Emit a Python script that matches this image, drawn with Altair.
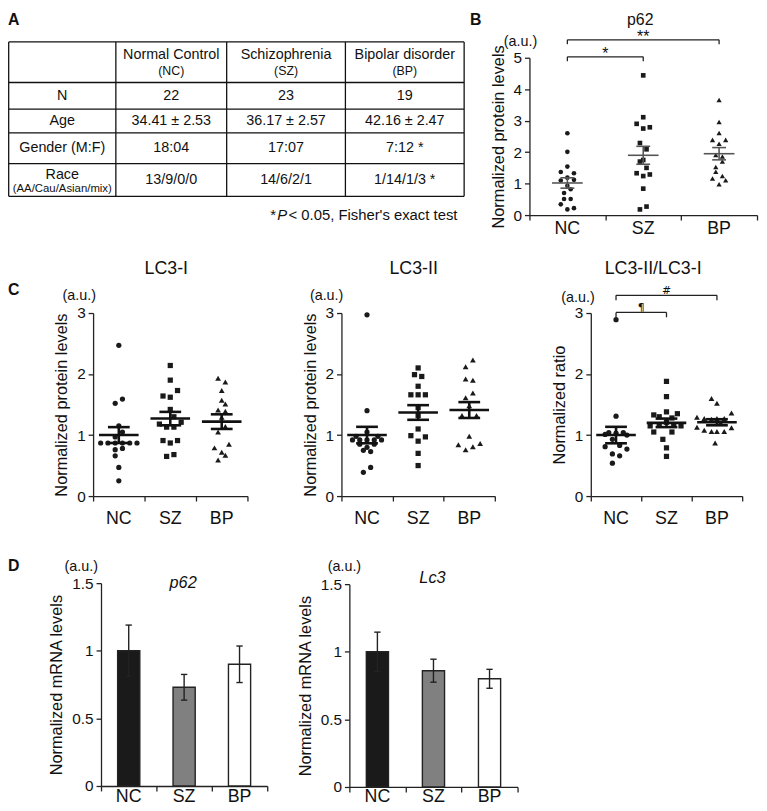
import altair as alt
import pandas as pd

OFF = 8
W, H = 759, 803
FONT = "Liberation Sans, Arial, Helvetica, sans-serif"
NARROW = "Liberation Sans Narrow, Liberation Sans, Arial, sans-serif"
INK = "#1a1a1a"

groups = ["NC", "SZ", "BP"]

# ---------------- Panel A: demographics table ----------------
col_heads = ["Normal Control", "Schizophrenia", "Bipolar disorder"]
col_abbr = ["(NC)", "(SZ)", "(BP)"]
row_labels = ["N", "Age", "Gender (M:F)", "Race"]
race_sub = "(AA/Cau/Asian/mix)"
n_vals = ["22", "23", "19"]
age_vals = ["34.41 ± 2.53", "36.17 ± 2.57", "42.16 ± 2.47"]
gender_vals = ["18:04", "17:07", "7:12 *"]
race_vals = ["13/9/0/0", "14/6/2/1", "1/14/1/3 *"]

# ---------------- Panel B: p62 protein ----------------
b_nc = [2.60, 2.01, 1.54, 1.37, 1.33, 1.19, 1.10, 1.12, 0.93, 0.82, 0.70, 0.51, 0.51, 0.34, 0.22, 0.18]
b_nc_slot = [0, 0, 0, -2, 2, 0, -2, 2, 0, 1, -1, -1, 1, -2, 2, 0]
b_sz = [4.44, 3.11, 2.90, 2.79, 2.75, 2.29, 2.09, 1.75, 1.70, 1.50, 1.33, 1.29, 1.24, 0.84, 0.27, 0.18]
b_sz_slot = [0, 0, -2, 2, 0, -1, 1, 0, -1, 1, -2, 2, 0, 0, 1, -1]
b_bp = [3.66, 2.96, 2.61, 2.39, 2.39, 2.27, 1.91, 1.86, 1.70, 1.53, 1.38, 1.24, 1.16, 1.11, 0.98]
b_bp_slot = [0, 0, 0, -2, 2, 0, -1, 1, 1, -1, -1, 1, -2, 2, 0]
b_mean = [1.02, 1.90, 1.95]
b_sem = [0.165, 0.285, 0.195]
b_brackets = [
    {"a": 0, "b": 1, "lv": 5.03, "drop": 0.14, "label": "*"},
    {"a": 0, "b": 2, "lv": 5.57, "drop": 0.14, "label": "**"},
]

# ---------------- Panel C: LC3-I ----------------
c1_nc = [2.47, 1.59, 1.52, 1.15, 1.05, 0.97, 0.87, 0.87, 0.87, 0.87, 0.87, 0.87, 0.78, 0.76, 0.66, 0.47, 0.25]
c1_nc_slot = [0, 1, -1, 0, 1, -1, -5, -3, -1, 1, 3, 5, 1, -1, -1, 0, 0]
c1_sz = [2.14, 1.90, 1.73, 1.64, 1.62, 1.42, 1.30, 1.21, 1.18, 1.13, 1.13, 0.91, 0.91, 0.87, 0.68, 0.65]
c1_sz_slot = [0, 0, 2, -2, 0, 0, 1, 3, -3, -1, 1, -2, 2, 0, 1, -1]
c1_bp = [1.93, 1.87, 1.73, 1.57, 1.51, 1.41, 1.39, 1.29, 1.14, 1.05, 0.85, 0.79, 0.72, 0.67, 0.59]
c1_bp_slot = [-1, 1, 0, 0, 1, -1, 1, 0, 1, -1, 2, -2, 0, 1, -1]
c1_mean = [1.00, 1.27, 1.22]
c1_sem = [0.13, 0.11, 0.12]

# ---------------- Panel C: LC3-II ----------------
c2_nc = [2.97, 1.40, 1.05, 0.98, 0.98, 0.92, 0.92, 0.92, 0.92, 0.92, 0.85, 0.85, 0.80, 0.75, 0.73, 0.47, 0.39]
c2_nc_slot = [0, 0, 0, -3, 3, -4, -2, 0, 2, 4, -2, 2, 0, -1, 1, 1, -1]
c2_sz = [2.10, 1.99, 1.96, 1.80, 1.66, 1.66, 1.66, 1.45, 1.32, 1.10, 0.99, 0.97, 0.90, 0.70, 0.50]
c2_sz_slot = [0, -1, 1, 0, -2, 0, 2, 0, 0, 0, -2, 2, 0, 0, 0]
c2_bp = [2.23, 2.12, 1.92, 1.90, 1.69, 1.61, 1.48, 1.32, 1.32, 0.98, 0.86, 0.84, 0.81, 0.76]
c2_bp_slot = [1, -1, -1, 1, 1, -1, 0, -2, 2, 0, 3, -3, 1, -1]
c2_mean = [1.00, 1.37, 1.41]
c2_sem = [0.135, 0.12, 0.13]

# ---------------- Panel C: LC3-II/LC3-I ----------------
c3_nc = [2.89, 1.31, 1.04, 1.04, 1.03, 1.01, 1.00, 0.93, 0.83, 0.81, 0.77, 0.69, 0.66, 0.54]
c3_nc_slot = [0, 0, -2, 2, 0, -3, 3, -1, 1, -3, 3, -1, 1, -1]
c3_sz = [1.88, 1.63, 1.38, 1.35, 1.33, 1.30, 1.28, 1.21, 1.16, 1.16, 1.15, 1.15, 1.05, 1.05, 0.93, 0.79, 0.65]
c3_sz_slot = [0, 0, 0, 3, -3.5, -2, 1.5, 0, -2, 2, -4.5, 4, -3.5, 1.5, -1, 0, 0]
c3_bp = [1.60, 1.52, 1.36, 1.29, 1.27, 1.26, 1.27, 1.27, 1.20, 1.13, 1.08, 1.06, 1.06, 1.06, 1.12, 0.87]
c3_bp_slot = [-1.5, 0, 4, -5.5, -3.5, -1.5, 0, 2, 1, -5.5, -3.5, -1.5, 0, 2, 4, -0.5]
c3_mean = [1.00, 1.20, 1.21]
c3_sem = [0.135, 0.07, 0.05]
c3_brackets = [
    {"a": 0, "b": 1, "lv": 3.01, "drop": 0.08, "label": "¶"},
    {"a": 0, "b": 2, "lv": 3.29, "drop": 0.08, "label": "#"},
]

# ---------------- Panel D: mRNA ----------------
d1_mean = [1.00, 0.73, 0.90]
d1_err = [0.19, 0.095, 0.135]
d2_mean = [1.00, 0.86, 0.80]
d2_err = [0.145, 0.085, 0.07]


def P(v):
    return v - OFF


def axes(x0, x1, y0, ytop, ymax, yticks, ytitle):
    xs = alt.Scale(domain=[-0.5, 2.5], range=[P(x0), P(x1)], nice=False, zero=False)
    ys = alt.Scale(domain=[0, ymax], range=[P(y0), P(ytop)], nice=False, zero=False)
    xax = alt.Axis(values=[-0.5, 0.5, 1.5, 2.5], labels=False, title=None, orient="bottom",
                   offset=P(y0) - H, tickSize=5, grid=False, domainWidth=1.3, tickWidth=1.3)
    yax = alt.Axis(values=yticks, orient="left", offset=-P(x0), title=ytitle, titlePadding=7,
                   tickSize=5, grid=False, format="~g", labelPadding=3,
                   domainWidth=1.3, tickWidth=1.3)

    def X(f):
        return alt.X(f, type="quantitative", scale=xs, axis=xax)

    def Y(f):
        return alt.Y(f, type="quantitative", scale=ys, axis=yax)

    return X, Y


def cat_labels(X, label_y, fs=18):
    df = pd.DataFrame({"g": groups, "idx": [0, 1, 2]})
    return alt.Chart(df).mark_text(font=FONT, fontSize=fs, baseline="middle", color="#111").encode(
        x=X("idx"), y=alt.value(P(label_y)), text="g:N")


def bracket_layers(X, Y, brs, fs, dy, font=FONT, color="#222"):
    bb = alt.Chart(pd.DataFrame(brs)).transform_calculate(
        lv2="datum.lv - datum.drop", mid="(datum.a + datum.b) / 2")
    return [
        bb.mark_rule(color=color, strokeWidth=1.3).encode(x=X("a"), x2="b", y=Y("lv")),
        bb.mark_rule(color=color, strokeWidth=1.3).encode(x=X("a"), y=Y("lv"), y2="lv2"),
        bb.mark_rule(color=color, strokeWidth=1.3).encode(x=X("b"), y=Y("lv"), y2="lv2"),
        bb.mark_text(font=font, fontSize=fs, baseline="alphabetic", dy=dy, color="#111").encode(
            x=X("mid"), y=Y("lv"), text="label:N"),
    ]


def scatter_panel(vals, slots, means, sems, x0, x1, y0, ytop, ymax, yticks, ytitle,
                  slot_px, mean_half_px, sem_half_px, line_color, line_w, sizes, label_y,
                  brackets=None, br_fs=16, br_dy=1, br_font=FONT):
    X, Y = axes(x0, x1, y0, ytop, ymax, yticks, ytitle)
    step = (x1 - x0) / 3.0
    rows = []
    for gi, g in enumerate(groups):
        for v, s in zip(vals[gi], slots[gi]):
            rows.append({"g": g, "idx": gi, "v": v, "slot": s})
    pts = pd.DataFrame(rows)
    layers = []
    for gi, (g, shp) in enumerate(zip(groups, ["circle", "square", "triangle-up"])):
        layers.append(
            alt.Chart(pts).transform_filter(alt.datum.g == g)
            .transform_calculate(xj=f"datum.idx + datum.slot * {slot_px / step}")
            .mark_point(shape=shp, filled=True, size=sizes[gi], color=INK, opacity=1, strokeWidth=0)
            .encode(x=X("xj"), y=Y("v"))
        )
    mh = mean_half_px / step
    sh = sem_half_px / step
    ms = pd.DataFrame({"g": groups, "idx": [0, 1, 2], "m": means, "s": sems})
    base = alt.Chart(ms).transform_calculate(
        lo="datum.m - datum.s", hi="datum.m + datum.s",
        xa=f"datum.idx - {mh}", xb=f"datum.idx + {mh}",
        ca=f"datum.idx - {sh}", cb=f"datum.idx + {sh}")
    rk = dict(color=line_color, strokeWidth=line_w)
    layers += [
        base.mark_rule(**rk).encode(x=X("xa"), x2="xb", y=Y("m")),
        base.mark_rule(**rk).encode(x=X("ca"), x2="cb", y=Y("hi")),
        base.mark_rule(**rk).encode(x=X("ca"), x2="cb", y=Y("lo")),
        base.mark_rule(**rk).encode(x=X("idx"), y=Y("lo"), y2="hi"),
        cat_labels(X, label_y),
    ]
    if brackets:
        layers += bracket_layers(X, Y, brackets, br_fs, br_dy, font=br_font)
    return alt.layer(*layers)


def bar_panel(means, errs, x0, x1, y0, ytop, ytitle, label_y):
    X, Y = axes(x0, x1, y0, ytop, 1.5, [0, 0.5, 1, 1.5], ytitle)
    step = (x1 - x0) / 3.0
    bh = 11.2 / step
    ch = 3.2 / step
    d = pd.DataFrame({"g": groups, "idx": [0, 1, 2], "m": means, "e": errs})
    base = alt.Chart(d).transform_calculate(
        z="0", xa=f"datum.idx - {bh}", xb=f"datum.idx + {bh}",
        lo="datum.m - datum.e", hi="datum.m + datum.e",
        ca=f"datum.idx - {ch}", cb=f"datum.idx + {ch}")
    rk = dict(color="#222", strokeWidth=1.4)
    return alt.layer(
        base.mark_bar(stroke="#222", strokeWidth=1.4).encode(
            x=X("xa"), x2="xb", y=Y("m"), y2="z",
            color=alt.Color("g:N", scale=alt.Scale(domain=groups, range=[INK, "#808080", "#ffffff"]),
                            legend=None)),
        base.mark_rule(**rk).encode(x=X("idx"), y=Y("lo"), y2="hi"),
        base.mark_rule(**rk).encode(x=X("ca"), x2="cb", y=Y("hi")),
        base.mark_rule(**rk).encode(x=X("ca"), x2="cb", y=Y("lo")),
        cat_labels(X, label_y),
    )


def text_layer(items, **kw):
    df = pd.DataFrame(items, columns=["text", "x", "y", "fs"])
    df["x"] = df["x"] - OFF
    df["y"] = df["y"] - OFF
    return alt.Chart(df).mark_text(color="#111", **kw).encode(
        x=alt.X("x:Q", scale=None, axis=None),
        y=alt.Y("y:Q", scale=None, axis=None),
        text="text:N",
        size=alt.Size("fs:Q", scale=None, legend=None))


# ---------------- Table (panel A) ----------------
col_edges = [8.7, 117, 229, 349, 469]
row_edges = [38, 79, 106, 130, 161, 194]
lines = []
for yv in row_edges:
    lines.append({"x": col_edges[0], "x2": col_edges[-1], "y": yv, "y2": yv})
for xv in col_edges:
    lines.append({"x": xv, "x2": xv, "y": row_edges[0], "y2": row_edges[-1]})
ldf = pd.DataFrame(lines)
for c in ["x", "x2", "y", "y2"]:
    ldf[c] = ldf[c] - OFF
table_lines = alt.Chart(ldf).mark_rule(color="#111", strokeWidth=1.3).encode(
    x=alt.X("x:Q", scale=None, axis=None), x2="x2:Q",
    y=alt.Y("y:Q", scale=None, axis=None), y2="y2:Q")

cx = [(col_edges[i] + col_edges[i + 1]) / 2 for i in range(4)]
cy = [(row_edges[i] + row_edges[i + 1]) / 2 for i in range(5)]
cells = []
for j in range(3):
    cells.append((col_heads[j], cx[j + 1], 51, 14.5))
    cells.append((col_abbr[j], cx[j + 1], 67, 12.5))
for i, lab in enumerate(row_labels[:3]):
    cells.append((lab, cx[0], cy[i + 1], 14.5))
cells.append((row_labels[3], cx[0], 172.5, 14.5))
cells.append((race_sub, cx[0], 186.5, 11.5))
for r, vals in enumerate([n_vals, age_vals, gender_vals, race_vals]):
    for j, v in enumerate(vals):
        cells.append((v, cx[j + 1], cy[r + 1], 14.5))
table_text = text_layer(cells, font=FONT, align="center", baseline="middle")

foot_plain = text_layer([("*", 273, 213, 15), (" < 0.05, Fisher's exact test", 291.5, 213, 15)],
                        font=FONT, align="left", baseline="middle")
foot_ital = text_layer([("P", 280, 213, 15)], font=FONT, fontStyle="italic", align="left",
                       baseline="middle")

letters = text_layer([("A", 8, 8, 16), ("B", 475, 8, 16), ("C", 8, 281, 16), ("D", 8, 560, 16)],
                     font=FONT, fontWeight="bold", align="left", baseline="top")
au = text_layer([("(a.u.)", 526, 38, 14.5), ("(a.u.)", 80, 295, 14.5), ("(a.u.)", 330, 295, 14.5),
                 ("(a.u.)", 584, 297, 14.5), ("(a.u.)", 82, 569, 14.5), ("(a.u.)", 348, 569, 14.5)],
                font=FONT, align="center", baseline="middle")
b_title = text_layer([("p62", 647, 8, 16)], font=FONT, align="center", baseline="top")
c_titles = text_layer([("LC3-I", 168, 268, 18), ("LC3-II", 418, 268, 18), ("LC3-II/LC3-I", 660, 268, 18)],
                      font=NARROW, align="center", baseline="middle")
d_titles = text_layer([("p62", 185, 585, 16.5), ("Lc3", 437, 580, 16.5)], font=FONT,
                      fontStyle="italic", align="center", baseline="middle")

# ---------------- Panels ----------------
pB = scatter_panel([b_nc, b_sz, b_bp], [b_nc_slot, b_sz_slot, b_bp_slot], b_mean, b_sem,
                   535, 765, 213, 54, 5, [0, 1, 2, 3, 4, 5], "Normalized protein levels",
                   3.33, 15.5, 7, "#555555", 1.6, [22, 22, 28], 227,
                   brackets=b_brackets, br_fs=16, br_dy=2.5)
pC1 = scatter_panel([c1_nc, c1_sz, c1_bp], [c1_nc_slot, c1_sz_slot, c1_bp_slot], c1_mean, c1_sem,
                    94, 250, 497, 312, 3, [0, 1, 2, 3], "Normalized protein levels",
                    3.67, 20, 11, "#111111", 2.6, [28, 28, 34], 520)
pC2 = scatter_panel([c2_nc, c2_sz, c2_bp], [c2_nc_slot, c2_sz_slot, c2_bp_slot], c2_mean, c2_sem,
                    345, 500, 497, 312, 3, [0, 1, 2, 3], "Normalized protein levels",
                    3.67, 20, 11, "#111111", 2.6, [28, 28, 34], 520)
pC3 = scatter_panel([c3_nc, c3_sz, c3_bp], [c3_nc_slot, c3_sz_slot, c3_bp_slot], c3_mean, c3_sem,
                    597, 750, 497, 312, 3, [0, 1, 2, 3], "Normalized ratio",
                    3.67, 20, 11, "#111111", 2.6, [28, 28, 34], 520,
                    brackets=c3_brackets, br_fs=11, br_dy=-1, br_font="DejaVu Sans")
pD1 = bar_panel(d1_mean, d1_err, 102, 270, 790, 585, "Normalized mRNA levels", 801)
pD2 = bar_panel(d2_mean, d2_err, 353, 523, 791, 586, "Normalized mRNA levels", 801)

chart = alt.layer(
    table_lines, table_text, foot_plain, foot_ital, letters, au, b_title, c_titles, d_titles,
    pB, pC1, pC2, pC3, pD1, pD2,
).resolve_scale(x="independent", y="independent").resolve_axis(
    x="independent", y="independent"
).properties(
    width=W, height=H, autosize=alt.AutoSizeParams(type="none"), padding=0
).configure_view(stroke=None).configure_axis(
    labelFont=FONT, titleFont=FONT, labelFontSize=15.5, titleFontSize=16.5,
    titleFontWeight="normal", labelColor="#111", titleColor="#111",
    domainColor="#222", tickColor="#222", grid=False
)

chart.save("out.html", embed_options={"renderer": "svg", "actions": False})
